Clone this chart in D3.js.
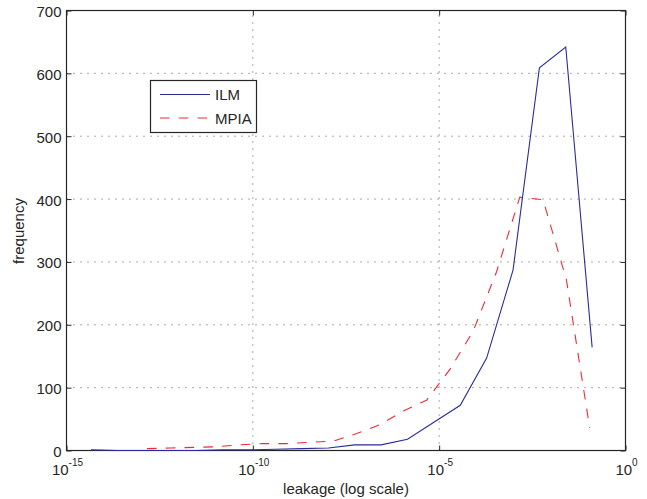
<!DOCTYPE html>
<html><head><meta charset="utf-8">
<script src="https://cdn.jsdelivr.net/npm/d3@7"></script>
<style>
body{margin:0;background:#fff}
svg{display:block}
text{font-family:"Liberation Sans",Arial,Helvetica,sans-serif;fill:#262626}
</style>
</head><body>
<svg id="chart" width="647" height="499"></svg>
<script>
// ---- data ----
const seriesNames = ["ILM", "MPIA"];
const ilmLeakExp = [-14.343,-13.635,-12.927,-12.220,-11.512,-10.804,-10.096,-9.388,-8.681,-7.973,
                    -7.265,-6.557,-5.849,-5.142,-4.434,-3.726,-3.018,-2.310,-1.603,-0.895];
const ilmFreq    = [1,0,0,0,0,1,1,2,3,4,9,9,18,45,72,147,287,609,642,164];
const mpiaLeakExp = [-12.840,-12.215,-11.590,-10.964,-10.339,-9.714,-9.089,-8.464,-7.838,-7.213,
                     -6.588,-5.963,-5.338,-4.712,-4.087,-3.462,-2.837,-2.212,-1.587,-0.961];
const mpiaFreq    = [3,4,5,6,9,11,11,13,15,27,41,63,80,129,190,284,403,399,272,36];
const xTickExps = [-15,-10,-5,0];
const yTicks = [0,100,200,300,400,500,600,700];
const xLabel = "leakage (log scale)";
const yLabel = "frequency";

// ---- layout ----
const L = 66.5, R = 625.5, T = 10.5, B = 450.5;
const svg = d3.select("#chart");
const x = d3.scaleLog().domain([1e-15, 1]).range([L, R]);
const y = d3.scaleLinear().domain([0, 700]).range([B, T]);

// grid
const grid = svg.append("g").attr("stroke", "#555").attr("stroke-width", 1)
  .attr("stroke-dasharray", "1,6").attr("fill", "none");
yTicks.filter(v => v > 0 && v < 700).forEach(v => {
  grid.append("line").attr("x1", L).attr("x2", R).attr("y1", y(v)).attr("y2", y(v));
});
xTickExps.filter(e => e > -15 && e < 0).forEach(e => {
  grid.append("line").attr("x1", x(Math.pow(10, e))).attr("x2", x(Math.pow(10, e))).attr("y1", B).attr("y2", T);
});

// axes (ticks inward, MATLAB style)
const tickLen = 5;
const fmtNone = () => "";
svg.append("g").attr("transform", `translate(0,${B})`)
  .call(d3.axisBottom(x).tickValues(xTickExps.map(e => Math.pow(10, e))).tickSizeInner(-tickLen).tickSizeOuter(0).tickFormat(fmtNone))
  .call(g => g.select(".domain").remove());
svg.append("g").attr("transform", `translate(0,${T})`)
  .call(d3.axisTop(x).tickValues(xTickExps.map(e => Math.pow(10, e))).tickSizeInner(-tickLen).tickSizeOuter(0).tickFormat(fmtNone))
  .call(g => g.select(".domain").remove());
svg.append("g").attr("transform", `translate(${L},0)`)
  .call(d3.axisLeft(y).tickValues(yTicks).tickSizeInner(-tickLen).tickSizeOuter(0).tickFormat(fmtNone))
  .call(g => g.select(".domain").remove());
svg.append("g").attr("transform", `translate(${R},0)`)
  .call(d3.axisRight(y).tickValues(yTicks).tickSizeInner(-tickLen).tickSizeOuter(0).tickFormat(fmtNone))
  .call(g => g.select(".domain").remove());
svg.selectAll(".tick line").attr("stroke", "#262626");

// box
svg.append("rect").attr("x", L).attr("y", T).attr("width", R - L).attr("height", B - T)
  .attr("fill", "none").attr("stroke", "#262626").attr("stroke-width", 1.2);

// y tick labels
svg.append("g").selectAll("text").data(yTicks).join("text")
  .attr("x", L - 5).attr("y", d => y(d) + 6.5)
  .attr("text-anchor", "end").attr("font-size", 15).text(d => d);

// x tick labels with superscript
const xl = svg.append("g").selectAll("text").data(xTickExps).join("text")
  .attr("x", d => x(Math.pow(10, d)) + 1).attr("y", 475)
  .attr("text-anchor", "middle").attr("font-size", 15);
xl.append("tspan").text("10");
xl.append("tspan").attr("dy", -9).attr("font-size", 10).text(d => d === 0 ? "0" : String(d));

// axis titles
svg.append("text").attr("x", 346).attr("y", 494).attr("text-anchor", "middle")
  .attr("font-size", 15).text(xLabel);
svg.append("text").attr("transform", "translate(24,231) rotate(-90)").attr("text-anchor", "middle")
  .attr("font-size", 15).text(yLabel);

// lines
const line = d3.line().x(d => x(Math.pow(10, d[0]))).y(d => y(d[1]));
const ilmData = ilmLeakExp.map((e, i) => [e, ilmFreq[i]]);
const mpiaData = mpiaLeakExp.map((e, i) => [e, mpiaFreq[i]]);
const colors = ["#2b2b9c", "#ee2a35"];
svg.append("path").datum(ilmData).attr("d", line).attr("fill", "none")
  .attr("stroke", colors[0]).attr("stroke-width", 1.1);
const mp = svg.append("path").datum(mpiaData).attr("d", line).attr("fill", "none")
  .attr("stroke", colors[1]).attr("stroke-width", 1.1);
// fit the dash period so the dashed line ends with a short dash, like the reference
const len = mp.node().getTotalLength();
const nPer = Math.round(len / 18.8);
const P = len / (nPer + 0.04);
mp.attr("stroke-dasharray", `${(P * 0.51).toFixed(3)},${(P * 0.49).toFixed(3)}`);

// legend
const lg = svg.append("g");
lg.append("rect").attr("x", 150.5).attr("y", 80.5).attr("width", 106).attr("height", 52)
  .attr("fill", "#fff").attr("stroke", "#262626").attr("stroke-width", 1.2);
const legendDash = [null, "9.5,9.3"];
seriesNames.forEach((name, i) => {
  const yy = 94.5 + i * 23.5;
  lg.append("line").attr("x1", 160).attr("x2", 210).attr("y1", yy).attr("y2", yy)
    .attr("stroke", colors[i]).attr("stroke-width", 1.1)
    .attr("stroke-dasharray", legendDash[i]);
  lg.append("text").attr("x", 215).attr("y", yy + 5.5).attr("font-size", 15).text(name);
});
</script>
</body></html>
